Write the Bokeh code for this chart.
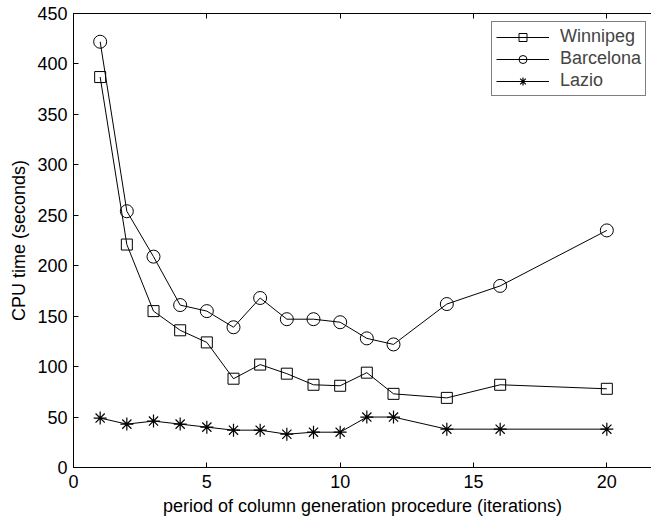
from bokeh.plotting import figure
from bokeh.models import LinearAxis, Range1d, FixedTicker, Legend, LegendItem
from bokeh.embed import file_html
from bokeh.resources import INLINE

iterations = [1, 2, 3, 4, 5, 6, 7, 8, 9, 10, 11, 12, 14, 16, 20]
winnipeg = [387, 221, 155, 136, 124, 88, 102, 93, 82, 81, 94, 73, 69, 82, 78]
barcelona = [422, 254, 209, 161, 155, 139, 168, 147, 147, 144, 128, 122, 162, 180, 235]
lazio = [49, 43, 46, 43, 40, 37, 37, 33, 35, 35, 50, 50, 38, 38, 38]

x_ticks = [0, 5, 10, 15, 20]
y_ticks = [0, 50, 100, 150, 200, 250, 300, 350, 400, 450]

FONT = "Liberation Sans"
FS = "18px"

p = figure(
    output_backend="svg", toolbar_location=None,
    frame_width=578, frame_height=454,
    min_border_left=73, min_border_top=13, min_border_right=0, min_border_bottom=48,
    x_range=Range1d(0, 21.675), y_range=Range1d(0, 450),
    x_axis_label="period of column generation procedure (iterations)",
    y_axis_label="CPU time (seconds)",
)
p.outline_line_color = None
p.grid.visible = False
p.background_fill_color = "white"

for ax in [p.xaxis[0], p.yaxis[0]]:
    ax.major_tick_in = 5
    ax.major_tick_out = 0
    ax.minor_tick_line_color = None
    ax.axis_line_color = "black"
    ax.major_tick_line_color = "black"
    ax.major_label_text_font = FONT
    ax.major_label_text_font_size = FS
    ax.major_label_text_color = "black"
    ax.axis_label_text_font = FONT
    ax.axis_label_text_font_size = FS
    ax.axis_label_text_font_style = "normal"
    ax.axis_label_text_color = "black"

p.xaxis[0].ticker = FixedTicker(ticks=x_ticks)
p.yaxis[0].ticker = FixedTicker(ticks=y_ticks)
p.xaxis[0].major_label_standoff = 7
p.xaxis[0].axis_label_standoff = 5
p.yaxis[0].major_label_standoff = 6
p.yaxis[0].axis_label_standoff = 5

top = LinearAxis(ticker=FixedTicker(ticks=x_ticks), major_tick_in=5, major_tick_out=0,
                 minor_tick_line_color=None, major_label_text_font_size="0px",
                 major_label_text_color=None)
p.add_layout(top, "above")

lw = 1
r1l = p.line(iterations, winnipeg, line_color="black", line_width=lw)
r1m = p.scatter(iterations, winnipeg, marker="square", size=11, fill_color=None,
                line_color="black", line_width=lw)
r2l = p.line(iterations, barcelona, line_color="black", line_width=lw)
r2m = p.scatter(iterations, barcelona, marker="circle", size=13, fill_color=None,
                line_color="black", line_width=lw)
r3l = p.line(iterations, lazio, line_color="black", line_width=lw)
r3m = p.scatter(iterations, lazio, marker="asterisk", size=13, fill_color=None,
                line_color="black", line_width=1.2)

legend = Legend(items=[
    LegendItem(label="Winnipeg", renderers=[r1l, r1m]),
    LegendItem(label="Barcelona", renderers=[r2l, r2m]),
    LegendItem(label="Lazio", renderers=[r3l, r3m]),
], location=(418, 371))
legend.label_text_font = FONT
legend.label_text_font_size = FS
legend.label_height = 20
legend.glyph_height = 20
legend.glyph_width = 53
legend.label_standoff = 11
legend.padding = 4
legend.spacing = 1
legend.margin = 0
legend.border_line_color = "black"
legend.border_line_width = 1
legend.background_fill_alpha = 1
p.add_layout(legend, "center")

open("out.html", "w").write(file_html(p, INLINE))
